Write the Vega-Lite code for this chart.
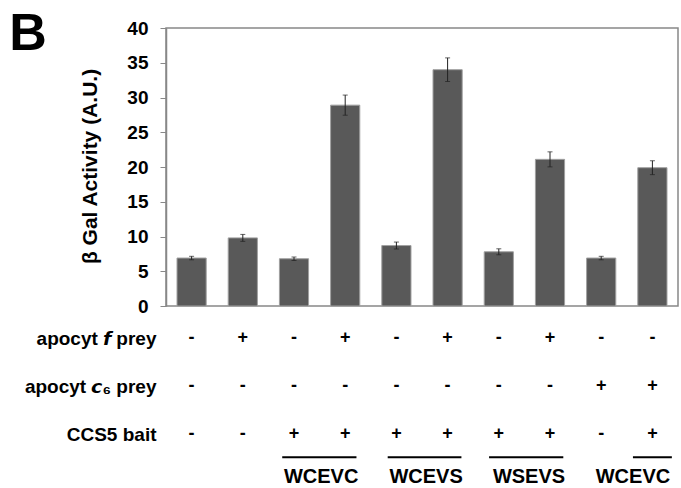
{
  "$schema": "https://vega.github.io/schema/vega-lite/v6.json",
  "padding": {"left": 8, "top": 7, "right": 3, "bottom": 0},
  "background": "white",
  "config": {
    "font": "Liberation Sans",
    "concat": {"spacing": 2},
    "axisY": {
      "titleFontSize": 21, "titleFontWeight": "bold", "titleColor": "black",
      "titlePadding": 26,
      "labelOverlap": false,
      "labelFontSize": 19, "labelFontWeight": "bold", "labelColor": "black",
      "labelPadding": 12,
      "grid": false,
      "domainColor": "#888", "domainWidth": 1.5,
      "tickColor": "#888", "tickSize": 6, "tickWidth": 1
    }
  },
  "datasets": {
    "bars": [
      {"id": 1, "value": 6.9, "err": 0.25},
      {"id": 2, "value": 9.8, "err": 0.5},
      {"id": 3, "value": 6.8, "err": 0.25},
      {"id": 4, "value": 28.9, "err": 1.45},
      {"id": 5, "value": 8.7, "err": 0.5},
      {"id": 6, "value": 34.0, "err": 1.7},
      {"id": 7, "value": 7.8, "err": 0.43},
      {"id": 8, "value": 21.1, "err": 1.08},
      {"id": 9, "value": 6.9, "err": 0.25},
      {"id": 10, "value": 19.9, "err": 1.0}
    ],
    "signs": [
      {"pos": 0.5, "row": 1, "sym": "-"}, {"pos": 1.5, "row": 1, "sym": "+"}, {"pos": 2.5, "row": 1, "sym": "-"}, {"pos": 3.5, "row": 1, "sym": "+"}, {"pos": 4.5, "row": 1, "sym": "-"},
      {"pos": 5.5, "row": 1, "sym": "+"}, {"pos": 6.5, "row": 1, "sym": "-"}, {"pos": 7.5, "row": 1, "sym": "+"}, {"pos": 8.5, "row": 1, "sym": "-"}, {"pos": 9.5, "row": 1, "sym": "-"},
      {"pos": 0.5, "row": 2, "sym": "-"}, {"pos": 1.5, "row": 2, "sym": "-"}, {"pos": 2.5, "row": 2, "sym": "-"}, {"pos": 3.5, "row": 2, "sym": "-"}, {"pos": 4.5, "row": 2, "sym": "-"},
      {"pos": 5.5, "row": 2, "sym": "-"}, {"pos": 6.5, "row": 2, "sym": "-"}, {"pos": 7.5, "row": 2, "sym": "-"}, {"pos": 8.5, "row": 2, "sym": "+"}, {"pos": 9.5, "row": 2, "sym": "+"},
      {"pos": 0.5, "row": 3, "sym": "-"}, {"pos": 1.5, "row": 3, "sym": "-"}, {"pos": 2.5, "row": 3, "sym": "+"}, {"pos": 3.5, "row": 3, "sym": "+"}, {"pos": 4.5, "row": 3, "sym": "+"},
      {"pos": 5.5, "row": 3, "sym": "+"}, {"pos": 6.5, "row": 3, "sym": "+"}, {"pos": 7.5, "row": 3, "sym": "+"}, {"pos": 8.5, "row": 3, "sym": "-"}, {"pos": 9.5, "row": 3, "sym": "+"}
    ],
    "groups": [
      {"name": "WCEVC", "start": 2.27, "end": 3.72, "mid": 3.03, "lineRow": 3.48, "labelRow": 3.9},
      {"name": "WCEVS", "start": 4.33, "end": 5.77, "mid": 5.08, "lineRow": 3.48, "labelRow": 3.9},
      {"name": "WSEVS", "start": 6.31, "end": 7.76, "mid": 7.09, "lineRow": 3.48, "labelRow": 3.9},
      {"name": "WCEVC", "start": 9.12, "end": 9.88, "mid": 9.12, "lineRow": 3.48, "labelRow": 3.9}
    ]
  },
  "vconcat": [
    {
      "width": 512,
      "height": 278,
      "title": {
        "text": "B",
        "orient": "left",
        "angle": 0,
        "anchor": "end",
        "align": "left",
        "baseline": "top",
        "offset": 33,
        "dy": -10,
        "fontSize": 52,
        "fontWeight": "bold",
        "font": "Liberation Sans",
        "color": "black"
      },
      "view": {"stroke": "#888", "strokeWidth": 1.5},
      "data": {"name": "bars"},
      "transform": [
        {"calculate": "datum.value - datum.err", "as": "lo"},
        {"calculate": "datum.value + datum.err", "as": "hi"}
      ],
      "encoding": {
        "x": {
          "field": "id", "type": "ordinal",
          "scale": {"paddingInner": 0.43, "paddingOuter": 0.215},
          "axis": null
        }
      },
      "layer": [
        {
          "mark": {"type": "bar", "color": "#595959", "stroke": "#a0a0a0", "strokeWidth": 1},
          "encoding": {
            "y": {
              "field": "value", "type": "quantitative",
              "scale": {"domain": [0, 40], "nice": false},
              "axis": {"title": "β Gal Activity (A.U.)", "titleY": 138, "values": [0, 5, 10, 15, 20, 25, 30, 35, 40]}
            }
          }
        },
        {
          "mark": {"type": "rule", "color": "#222", "strokeWidth": 1},
          "encoding": {
            "y": {"field": "lo", "type": "quantitative",
              "axis": {"title": "β Gal Activity (A.U.)", "titleY": 138, "values": [0, 5, 10, 15, 20, 25, 30, 35, 40]}},
            "y2": {"field": "hi"}
          }
        },
        {
          "mark": {"type": "tick", "color": "#222", "size": 5, "thickness": 1, "orient": "horizontal"},
          "encoding": {"y": {"field": "lo", "type": "quantitative",
            "axis": {"title": "β Gal Activity (A.U.)", "titleY": 138, "values": [0, 5, 10, 15, 20, 25, 30, 35, 40]}}}
        },
        {
          "mark": {"type": "tick", "color": "#222", "size": 5, "thickness": 1, "orient": "horizontal"},
          "encoding": {"y": {"field": "hi", "type": "quantitative",
            "axis": {"title": "β Gal Activity (A.U.)", "titleY": 138, "values": [0, 5, 10, 15, 20, 25, 30, 35, 40]}}}
        }
      ]
    },
    {
      "width": 512,
      "height": 168,
      "view": {"stroke": null},
      "encoding": {},
      "layer": [
        {
          "data": {"name": "signs"},
          "mark": {"type": "text", "fontSize": 18, "fontWeight": "bold", "color": "black", "baseline": "middle", "align": "center"},
          "encoding": {
            "x": {"field": "pos", "type": "quantitative", "scale": {"domain": [0, 10], "nice": false, "zero": false}, "axis": null},
            "y": {
              "field": "row", "type": "quantitative",
              "scale": {"domain": [0.6, 4.1], "nice": false, "zero": false, "reverse": true},
              "axis": {
                "title": null,
                "values": [1, 2, 3],
                "labelExpr": "datum.value == 1 ? 'apocyt 𝙛 prey' : datum.value == 2 ? 'apocyt 𝙘₆ prey' : 'CCS5 bait'",
                "labelPadding": 10,
                "domain": false, "ticks": false
              }
            },
            "text": {"field": "sym"}
          }
        },
        {
          "data": {"name": "groups"},
          "mark": {"type": "rule", "color": "black", "strokeWidth": 2},
          "encoding": {
            "x": {"field": "start", "type": "quantitative"},
            "x2": {"field": "end"},
            "y": {"field": "lineRow", "type": "quantitative"}
          }
        },
        {
          "data": {"name": "groups"},
          "mark": {"type": "text", "fontSize": 20, "fontWeight": "bold", "color": "black", "baseline": "middle", "align": "center"},
          "encoding": {
            "x": {"field": "mid", "type": "quantitative"},
            "y": {"field": "labelRow", "type": "quantitative"},
            "text": {"field": "name"}
          }
        }
      ]
    }
  ]
}
